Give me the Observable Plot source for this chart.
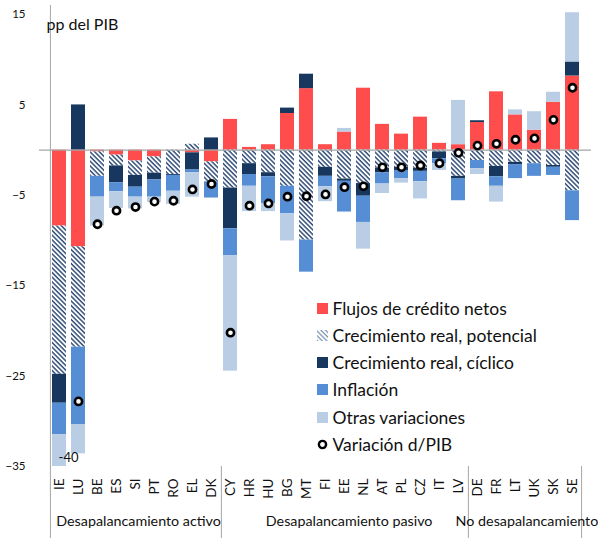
<!DOCTYPE html>
<html><head><meta charset="utf-8">
<script src="https://cdn.jsdelivr.net/npm/d3@7"></script>
<script src="https://cdn.jsdelivr.net/npm/@observablehq/plot@0.6"></script>
<style>
body{margin:0;background:#fff;}
#wrap{position:relative;width:598px;height:538px;font-family:Lato,sans-serif;color:#111;overflow:hidden;}
#legend{position:absolute;left:316.5px;top:294.7px;}
.row{display:flex;align-items:center;height:27.2px;font-size:17.5px;white-space:nowrap;}
.row svg{margin-right:5px;flex:none;}
</style></head><body><div id="wrap"></div>
<script>
const countries = ["IE","LU","BE","ES","SI","PT","RO","EL","DK","CY","HR","HU","BG","MT","FI","EE","NL","AT","PL","CZ","IT","LV","DE","FR","LT","UK","SK","SE"];
const groupNames = ["Desapalancamiento activo","Desapalancamiento pasivo","No desapalancamiento"];
const groupSizes = [9, 13, 6];
const seriesNames = ["Flujos de crédito netos","Crecimiento real, potencial","Crecimiento real, cíclico","Inflación","Otras variaciones"];
const dotName = "Variación d/PIB";
const flujos    = [-8.4,-10.7,-0.2,-0.55,-1.2,-0.75,0,-0.3,-1.3, 3.4,0.3,0.6,4.05,6.8,0.6,2.0,6.85,2.85,1.77,3.65,0.75,0.6, 3.05,6.45,3.9,2.2,5.3,8.2];
const potencial = [-16.4,-11.1,-2.7,-1.2,-1.6,-1.8,-2.7,0.65,-2.2, -4.2,-1.5,-2.5,-4.0,-9.95,-1.9,-3.2,-3.7,-2.0,-1.9,-2.0,-0.2,-2.9, -1.15,-1.8,-1.35,-1.5,-1.7,-4.5];
const ciclico   = [-3.2,5.0,0,-1.85,-1.3,-0.75,-0.1,-1.9,1.35, -4.5,-1.2,-0.45,0.6,1.6,-1.0,-0.25,-1.4,-0.5,-0.35,-0.35,-0.75,-0.3, 0.2,-1.15,-0.25,0,-0.2,1.55];
const inflacion = [-3.5,-8.6,-2.3,-1.0,-1.1,-1.9,-1.75,-0.3,-1.8, -3.0,-1.3,-2.95,-3.05,-3.55,-1.15,-3.4,-2.9,-1.25,-0.9,-1.15,-0.55,-2.4, -0.9,-1.05,-1.55,-1.4,-0.9,-3.3];
const otras     = [-8.5,-3.2,-3.2,-1.85,-1.3,-0.6,-1.45,-2.7,0, -12.75,-2.8,-0.9,-3.0,0,-1.65,0.4,-2.95,-1.05,-0.5,-1.9,-0.75,4.9, -0.65,-1.75,0.55,2.05,1.1,5.45];
const dPIB      = [-40,-27.8,-8.2,-6.7,-6.3,-5.7,-5.6,-4.35,-3.75, -20.2,-6.15,-5.9,-5.15,-5.1,-4.9,-4.1,-4.0,-1.9,-1.9,-1.7,-1.45,-0.3, 0.5,0.7,1.15,1.3,3.35,6.9];
const yTicks = [15,5,-5,-15,-25,-35];
const yDomain = [-35, 16];
const colors = ["#FF4D4D","url(#hatch)","#17375E","#558ED5","#B9CDE5"];

const seriesValues = [flujos, potencial, ciclico, inflacion, otras];
const long = [];
seriesNames.forEach((s, k) => countries.forEach((c, i) => long.push({country: c, series: s, value: seriesValues[k][i]})));
const dots = countries.map((c, i) => ({country: c, value: dPIB[i]}));
const offChart = dots.filter(d => d.value < yDomain[0]);

const W = 598, H = 538, mL = 39, mR = 7, mT = 5, mB = 72;
const pIn = 0.28, pOut = 0.1;
const step = (W - mL - mR) / (countries.length - pIn + 2 * pOut);
const edge = step * (pOut + (1 - pIn) / 2);
const frameH = H - mT - mB;

// group label anchors
const groupMarks = [];
const sepCountries = [];
let start = 0;
groupNames.forEach((g, k) => {
  const n = groupSizes[k];
  const first = countries[start];
  groupMarks.push(Plot.text([{label: g, country: first}], {x: "country", text: "label", frameAnchor: "bottom", dy: 55, dx: (n - 1) / 2 * step, fontSize: 14.3, lineAnchor: "middle", textAnchor: "middle", fill: "#111"}));
  start += n;
  if (k < groupNames.length - 1) sepCountries.push(countries[start - 1]);
});

const chart = Plot.plot({
  width: W, height: H, marginLeft: mL, marginRight: mR, marginTop: mT, marginBottom: mB,
  x: {type: "band", domain: countries, paddingInner: pIn, paddingOuter: pOut, label: null},
  y: {domain: yDomain, label: null},
  color: {domain: seriesNames, range: colors},
  style: {fontFamily: "Lato, sans-serif", color: "#111", background: "white", overflow: "hidden"},
  marks: [
    Plot.barY(long, Plot.stackY({x: "country", y: "value", fill: "series", clip: true})),
    Plot.ruleY([0], {stroke: "#A6A6A6", strokeWidth: 1.4}),
    Plot.dot(dots, {x: "country", y: "value", r: 3.6, fill: "white", stroke: "black", strokeWidth: 2.6, clip: true}),
    Plot.text(offChart, {x: "country", text: d => String(d.value), frameAnchor: "bottom", dy: -5, dx: 9, fontSize: 13, fill: "#111"}),
    Plot.ruleX([countries[0]], {x: d => d, dx: -edge, stroke: "#A6A6A6", insetBottom: -mB}),
    Plot.ruleX(sepCountries, {x: d => d, dx: step / 2, stroke: "#A6A6A6", insetTop: frameH, insetBottom: -mB}),
    Plot.ruleX([countries[countries.length - 1]], {x: d => d, dx: edge, stroke: "#A6A6A6", insetTop: frameH, insetBottom: -mB}),
    Plot.axisY({ticks: yTicks, tickSize: 0, tickPadding: 14, fontSize: 11.5, label: null}),
    Plot.axisX({tickRotate: -90, tickSize: 0, tickPadding: 12, fontSize: 13.5, label: null}),
    Plot.text(["pp del PIB"], {text: d => d, frameAnchor: "top-left", dx: 7, dy: 19, textAnchor: "start", lineAnchor: "middle", fontSize: 16, fill: "#111"}),
    ...groupMarks
  ]
});

d3.select(chart).insert("defs", ":first-child").html(
  '<pattern id="hatch" patternUnits="userSpaceOnUse" width="3.3" height="3.3" patternTransform="rotate(45)">' +
  '<rect width="3.3" height="3.3" fill="white"/><rect width="3.3" height="1.5" fill="#34507A"/></pattern>');

const wrap = document.getElementById("wrap");
wrap.appendChild(chart);

// legend
const legend = document.createElement("div");
legend.id = "legend";
const sw = (k) => {
  if (k < seriesNames.length) {
    if (colors[k].startsWith("url")) {
      return '<svg width="11" height="11"><defs><pattern id="hatchL" patternUnits="userSpaceOnUse" width="3.3" height="3.3" patternTransform="rotate(45)"><rect width="3.3" height="3.3" fill="white"/><rect width="3.3" height="1.3" fill="#7F95B3"/></pattern></defs><rect width="11" height="11" fill="url(#hatchL)"/></svg>';
    }
    return `<svg width="11" height="11"><rect width="11" height="11" fill="${colors[k]}"/></svg>`;
  }
  return '<svg width="11" height="11"><circle cx="5.5" cy="5.5" r="3.6" fill="white" stroke="black" stroke-width="2.4"/></svg>';
};
legend.innerHTML = [...seriesNames, dotName].map((s, k) => `<div class="row">${sw(k)}<span>${s}</span></div>`).join("");
wrap.appendChild(legend);
</script></body></html>
